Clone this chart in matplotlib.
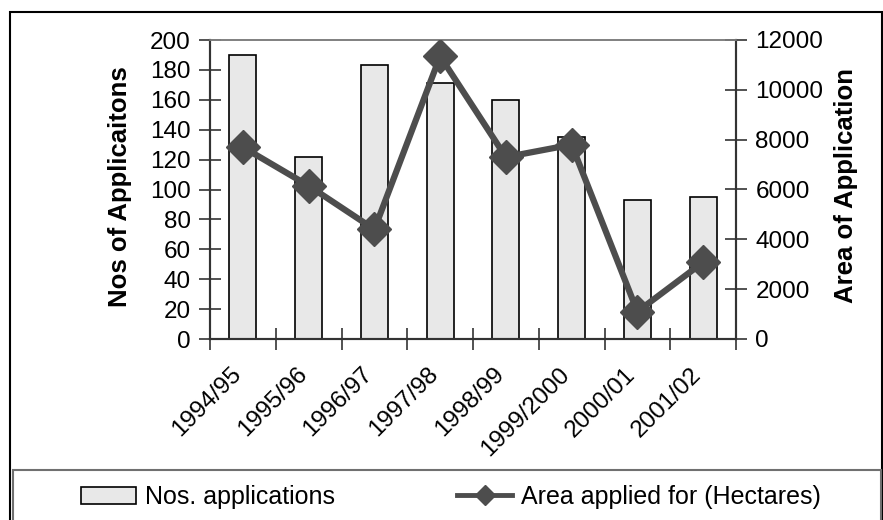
import numpy as np
import matplotlib
matplotlib.use("Agg")
import matplotlib.pyplot as plt
import matplotlib.transforms as mtransforms
from matplotlib.patches import Rectangle

plt.rcParams["font.family"] = ["Liberation Sans", "DejaVu Sans"]

seasons = ["1994/95", "1995/96", "1996/97", "1997/98", "1998/99", "1999/2000", "2000/01", "2001/02"]
applications = [190, 122, 183, 171, 160, 135, 93, 95]
area_hectares = [7700, 6150, 4400, 11350, 7300, 7800, 1100, 3080]

axis_grey = "#333333"
fs = 17.5

fig = plt.figure(figsize=(8.83, 5.2), dpi=100)
ax = fig.add_axes([210 / 883, 1 - 339 / 520, 526 / 883, 299 / 520])
ax2 = ax.twinx()

x = np.arange(len(seasons))
bars = ax.bar(x, applications, width=0.41, color="#e8e8e8", edgecolor="black",
              linewidth=1.2, label="Nos. applications", zorder=2)
line, = ax2.plot(x, area_hectares, color="#4d4d4d", linewidth=4.5, marker="D",
                 markersize=17, label="Area applied for (Hectares)", zorder=3)

ax.set_xlim(-0.5, len(seasons) - 0.5)
ax.set_ylim(0, 200)
ax.set_yticks(np.arange(0, 201, 20))
ax2.set_ylim(0, 12000)
ax2.set_yticks(np.arange(0, 12001, 2000))

# category boundaries as tick marks, labels centred under each bar
ax.set_xticks(np.arange(-0.5, len(seasons), 1))
ax.set_xticklabels([])
ax.set_xticks(x, minor=True)
ax.set_xticklabels(seasons, minor=True, rotation=45, ha="right", va="center",
                   rotation_mode="anchor", fontsize=fs)
ax.tick_params(axis="x", which="minor", length=0, pad=23)
ax.tick_params(axis="x", which="major", direction="inout", length=16, color=axis_grey, width=1.2)
ax.tick_params(axis="y", direction="inout", length=16, color=axis_grey, width=1.2,
               labelsize=fs, pad=6)
ax2.tick_params(axis="y", direction="inout", length=16, color=axis_grey, width=1.2,
                labelsize=fs, pad=6)

shift = mtransforms.ScaledTranslation(-5 / 100, 0, fig.dpi_scale_trans)
for lbl in ax.get_xticklabels(minor=True):
    lbl.set_transform(lbl.get_transform() + shift)

for a in (ax, ax2):
    for side in ("left", "right", "bottom"):
        a.spines[side].set_color(axis_grey)
        a.spines[side].set_linewidth(1.5)
    a.spines["top"].set_color("#808080")
    a.spines["top"].set_linewidth(1.2)

ax.set_ylabel("Nos of Applicaitons", fontsize=18.5, fontweight="bold")
ax.yaxis.set_label_coords(132 / 883, 1 - 187 / 520, transform=fig.transFigure)
ax2.set_ylabel("Area of Application", fontsize=18.5, fontweight="bold", rotation=90)
ax2.yaxis.set_label_coords(834 / 883, 1 - 185 / 520, transform=fig.transFigure)

# outer chart border and legend box
fig.patches.append(Rectangle((10 / 883, -0.05), 872 / 883, 1 - 12 / 520 + 0.05,
                             transform=fig.transFigure, fill=False,
                             edgecolor="black", linewidth=1.5))
fig.patches.append(Rectangle((13 / 883, -0.05), 868 / 883, 1 - 470 / 520 + 0.05,
                             transform=fig.transFigure, fill=False,
                             edgecolor="#707070", linewidth=1.5))

leg = fig.legend([bars, line], ["Nos. applications", "Area applied for (Hectares)"],
                 loc="center", bbox_to_anchor=(451 / 883, 1 - 497 / 520), ncol=2,
                 frameon=False, fontsize=18, handlelength=2.2, handletextpad=0.36,
                 columnspacing=4.9, markerscale=0.6)
leg.get_lines()[0].set_linewidth(3.5)

fig.savefig("out.png", dpi=100)
